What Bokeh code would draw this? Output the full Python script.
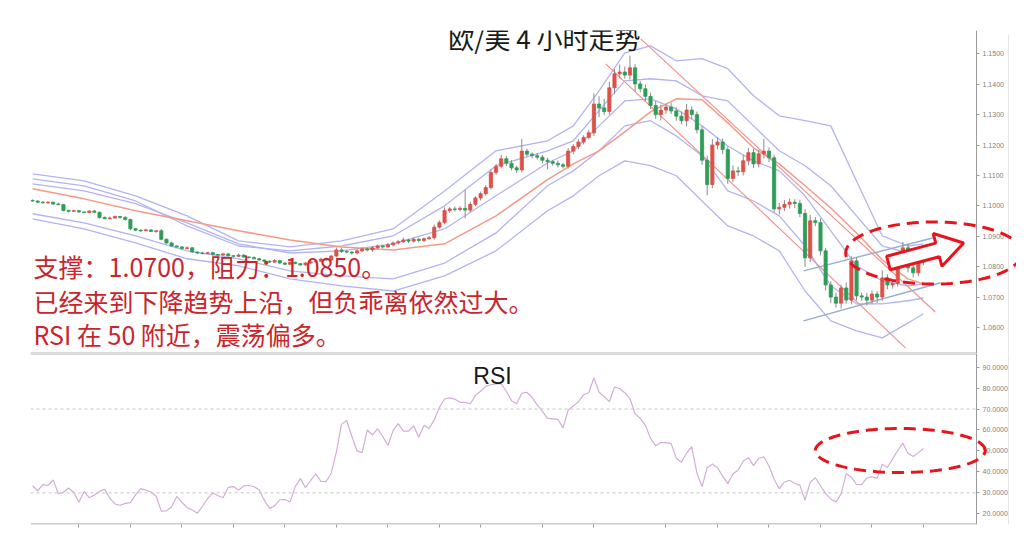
import numpy as np
from bokeh.plotting import figure
from bokeh.layouts import column
from bokeh.models import (Range1d, FixedTicker, NumeralTickFormatter,
                          PolyAnnotation, Label, ColumnDataSource)
from bokeh.core.properties import value
from bokeh.embed import file_html
from bokeh.resources import INLINE

# ---------------- data ----------------
first_open = 1.1018
closes = [
    1.1016, 1.1012, 1.1010, 1.1012, 1.1006, 1.1004, 1.0985, 1.0982, 1.0984, 1.0980,
    1.0978, 1.0983, 1.0979, 1.0962, 1.0958, 1.0960, 1.0965, 1.0962, 1.0955, 1.0925,
    1.0920, 1.0918, 1.0921, 1.0916, 1.0918, 1.0890, 1.0878, 1.0868, 1.0865, 1.0860,
    1.0862, 1.0848, 1.0845, 1.0843, 1.0846, 1.0840, 1.0838, 1.0842, 1.0836, 1.0834,
    1.0838, 1.0832, 1.0830, 1.0826, 1.0822, 1.0818, 1.0815, 1.0820, 1.0812, 1.0808,
    1.0814, 1.0810, 1.0806, 1.0812, 1.0816, 1.0818, 1.0825, 1.0822, 1.0835, 1.0855,
    1.0850, 1.0848, 1.0845, 1.0852, 1.0858, 1.0855, 1.0862, 1.0868, 1.0865, 1.0872,
    1.0878, 1.0882, 1.0888, 1.0884, 1.0890, 1.0886, 1.0892, 1.0895, 1.0930, 1.0945,
    1.0985, 1.0990, 1.0988, 1.0992, 1.0986, 1.1005, 1.1026, 1.1040, 1.1060, 1.1110,
    1.1130, 1.1155, 1.1140, 1.1125, 1.1118, 1.1180, 1.1170, 1.1165, 1.1160, 1.1150,
    1.1145, 1.1140, 1.1135, 1.1130, 1.1180, 1.1195, 1.1210, 1.1225, 1.1240, 1.1335,
    1.1322, 1.1310, 1.1388, 1.1434, 1.1440, 1.1430, 1.1454, 1.1401, 1.1385, 1.1360,
    1.1330, 1.1300, 1.1315, 1.1325, 1.1312, 1.1295, 1.1280, 1.1315, 1.1300, 1.1250,
    1.1150, 1.1070, 1.1200, 1.1210, 1.1185, 1.1090, 1.1115, 1.1112, 1.1148, 1.1175,
    1.1138, 1.1171, 1.1180, 1.1158, 1.0990, 1.0995, 1.1005, 1.1012, 1.1008, 1.0975,
    1.0829, 1.0951, 1.0945, 1.0852, 1.0740, 1.0700, 1.0680, 1.0730, 1.0690, 1.0819,
    1.0704, 1.0700, 1.0690, 1.0710, 1.0700, 1.0763, 1.0740, 1.0745, 1.0829, 1.0862,
    1.0796, 1.0780, 1.0819, 1.0815,
]
wick_up_pips = [
    3, 2, 4, 3, 2, 5, 3, 2, 4, 3,
    2, 3, 4, 2, 3, 5, 3, 2, 4, 3,
    2, 3, 4, 2, 3, 6, 3, 4, 2, 3,
    5, 3, 2, 4, 3, 3, 2, 4, 3, 2,
    5, 3, 2, 4, 3, 2, 3, 5, 3, 2,
    4, 3, 2, 3, 6, 3, 4, 5, 4, 8,
    6, 5, 4, 7, 5, 4, 6, 5, 4, 6,
    5, 6, 7, 4, 6, 5, 4, 6, 8, 7,
    10, 6, 8, 7, 60, 8, 6, 7, 9, 10,
    8, 12, 9, 10, 7, 40, 8, 6, 9, 7,
    8, 6, 9, 7, 10, 8, 9, 7, 10, 35,
    25, 30, 20, 15, 25, 18, 40, 12, 10, 14,
    12, 15, 18, 10, 14, 12, 15, 20, 12, 10,
    12, 15, 20, 15, 12, 10, 18, 14, 20, 15,
    12, 14, 40, 12, 10, 15, 14, 12, 10, 12,
    15, 20, 12, 14, 10, 12, 14, 10, 18, 15,
    12, 10, 14, 12, 10, 25, 12, 14, 10, 20,
    12, 14, 10, 8,
]
wick_dn_pips = [
    2, 3, 2, 4, 3, 2, 3, 4, 2, 3,
    3, 2, 3, 4, 2, 3, 2, 4, 3, 5,
    3, 4, 2, 3, 5, 3, 4, 2, 3, 4,
    3, 2, 4, 3, 2, 4, 3, 2, 3, 4,
    2, 3, 4, 2, 3, 5, 3, 2, 4, 3,
    3, 2, 4, 3, 2, 3, 4, 3, 5, 4,
    5, 4, 6, 5, 4, 5, 6, 4, 5, 4,
    6, 5, 4, 6, 5, 7, 5, 4, 6, 5,
    6, 8, 7, 6, 27, 7, 6, 8, 7, 6,
    8, 7, 9, 8, 10, 8, 7, 9, 8, 10,
    25, 8, 9, 7, 8, 10, 9, 8, 7, 10,
    30, 12, 10, 20, 15, 12, 14, 25, 12, 15,
    12, 14, 20, 12, 10, 15, 12, 18, 14, 12,
    15, 35, 12, 14, 15, 18, 12, 14, 12, 15,
    14, 12, 15, 14, 12, 18, 12, 14, 15, 12,
    30, 14, 12, 15, 18, 20, 15, 18, 12, 14,
    15, 12, 18, 14, 20, 12, 14, 12, 10, 12,
    14, 15, 12, 10,
]
rsi_values = [
    33.4, 31.0, 33.9, 33.5, 36.2, 29.6, 30.3, 32.3, 30.2, 25.5,
    30.7, 27.7, 28.9, 30.7, 31.7, 27.5, 24.7, 24.1, 25.0, 25.3,
    29.0, 32.0, 31.3, 30.4, 28.4, 21.3, 21.4, 23.4, 28.3, 25.5,
    23.0, 21.8, 20.3, 23.6, 27.3, 29.9, 28.6, 27.8, 32.6, 33.0,
    31.4, 33.3, 33.5, 32.9, 31.5, 26.5, 22.6, 23.8, 26.7, 26.8,
    25.6, 33.0, 36.8, 32.5, 35.9, 39.0, 35.5, 35.3, 39.5, 49.5,
    62.8, 64.5, 57.0, 50.0, 49.2, 60.0, 57.6, 60.6, 56.9, 52.6,
    59.7, 63.0, 59.5, 59.5, 62.0, 56.5, 62.2, 60.7, 64.8, 70.8,
    74.8, 75.3, 74.7, 73.2, 73.2, 72.5, 76.4, 78.5, 80.8, 81.6,
    82.0, 82.0, 78.5, 74.0, 72.5, 77.5, 78.0, 75.5, 72.0, 69.0,
    65.5, 65.3, 65.1, 61.0, 69.5, 71.5, 73.5, 76.8, 77.8, 84.8,
    78.0, 76.0, 73.5, 80.5, 79.8, 77.8, 75.0, 67.8, 65.5, 62.2,
    56.0, 52.5, 54.0, 54.0, 53.5, 46.5, 44.6, 49.0, 52.0, 39.5,
    33.0, 42.0, 43.8, 42.0, 38.0, 34.4, 39.1, 40.8, 45.2, 46.8,
    43.0, 46.5, 47.2, 42.8, 36.5, 32.0, 35.2, 36.0, 34.6, 33.7,
    26.5, 35.0, 37.2, 33.4, 29.6, 27.1, 25.6, 29.5, 39.2, 37.5,
    34.0, 33.9, 37.1, 37.7, 36.9, 43.7, 42.1, 46.2, 50.2, 53.7,
    48.8, 47.4, 49.2, 51.2,
]

# indicator lines, read at every tenth bar or so
band_idx = [0, 10, 20, 30, 40, 50, 60, 70, 80, 90, 100, 105, 110, 115, 120,
            125, 130, 135, 140, 145, 150, 155, 160, 165, 170, 173]
ma_line = [1.1056, 1.1023, 1.0984, 1.0951, 1.0918, 1.0888, 1.0865, 1.0855, 1.0875,
           1.0967, 1.1086, 1.1138, 1.1181, 1.1243, 1.1309, 1.1352, 1.1349, 1.1273,
           1.1191, 1.1138, 1.1066, 1.0993, 1.0911, 1.0822, 1.0760, 1.0743]
band_outer_up = [1.1105, 1.1082, 1.1033, 1.0967, 1.0885, 1.0865, 1.0885, 1.0924, 1.1049,
                 1.1181, 1.1214, 1.1263, 1.1378, 1.1503, 1.1526, 1.1477, 1.1484, 1.1451,
                 1.1362, 1.1296, 1.1280, 1.1263, 1.1082, 1.0901, 1.0868, 1.0875]
band_inner_up = [1.1089, 1.1066, 1.1016, 1.0934, 1.0868, 1.0852, 1.0868, 1.0901, 1.1000,
                 1.1132, 1.1181, 1.1214, 1.1313, 1.1411, 1.1418, 1.1411, 1.1362, 1.1345,
                 1.1263, 1.1181, 1.1132, 1.1066, 1.0967, 1.0868, 1.0845, 1.0852]
band_mid = [1.1072, 1.1049, 1.1007, 1.0944, 1.0875, 1.0845, 1.0852, 1.0875, 1.0924,
            1.1033, 1.1141, 1.1181, 1.1263, 1.1345, 1.1352, 1.1319, 1.1263, 1.1197,
            1.1148, 1.1115, 1.1033, 1.0918, 1.0803, 1.0753, 1.0737, 1.0743]
band_inner_dn = [1.0974, 1.0944, 1.0901, 1.0852, 1.0826, 1.0786, 1.0770, 1.0760, 1.0812,
                 1.0911, 1.1066, 1.1115, 1.1181, 1.1263, 1.1280, 1.1230, 1.1165, 1.1049,
                 1.1016, 1.0967, 1.0868, 1.0737, 1.0678, 1.0678, 1.0688, 1.0697]
band_outer_dn = [1.0957, 1.0924, 1.0878, 1.0826, 1.0803, 1.0760, 1.0737, 1.0720, 1.0770,
                 1.0852, 1.0984, 1.1033, 1.1099, 1.1148, 1.1132, 1.1099, 1.1016, 1.0934,
                 1.0901, 1.0852, 1.0720, 1.0622, 1.0589, 1.0566, 1.0615, 1.0645]

# trend lines (bar index, price)
down_upper_x = [118.1, 175.3]
down_upper_y = [1.1549, 1.0651]
down_lower_x = [111.3, 169.5]
down_lower_y = [1.1467, 1.0533]
up_upper_x = [149.7, 176.3]
up_upper_y = [1.0786, 1.0901]
up_lower_x = [149.7, 176.3]
up_lower_y = [1.0622, 1.0747]

price_ticks = [1.06, 1.07, 1.08, 1.09, 1.10, 1.11, 1.12, 1.13, 1.14, 1.15]
rsi_ticks = [20, 30, 40, 50, 60, 70, 80, 90]
rsi_levels = [30, 70]
day_ticks = [9, 19, 29, 39, 49, 59, 69, 79, 87, 99, 109, 123, 133, 143, 153, 163, 173]

title_text = "欧/美 4 小时走势"
note_lines = ["支撑：1.0700，阻力：1.0850。",
              "已经来到下降趋势上沿，但负乖离依然过大。",
              "RSI 在 50 附近，震荡偏多。"]
rsi_title = "RSI"

# ---------------- derived OHLC ----------------
c = np.array(closes)
o = np.concatenate([[first_open], c[:-1]])
hi = np.maximum(o, c) + np.array(wick_up_pips) * 0.0001
lo = np.minimum(o, c) - np.array(wick_dn_pips) * 0.0001
idx = np.arange(len(c))
up = c >= o

UP_COL = "#dd5148"
DN_COL = "#2e9d58"
WICK = "#8c8c8c"
LAV = "#b3b3f2"
SALMON = "#f49a86"
CHAN = "#f28c8c"
STEEL = "#97aecb"
ANN_RED = "#e8141c"
TXT_RED = "#c8262b"
AX_COL = "#9a9a9a"

W = 1016
BL = 30
X0, X1 = -0.4, 191.06      # frame spans the whole width
AXIS_X = 183.3             # where the price / RSI axes sit
EDGE_X = 189.5             # faint right border line
x_range = Range1d(X0, X1)
P_LO, P_HI = 1.05145, 1.15766
R_LO, R_HI = 14.9, 96.5


def style_yaxis(a, ticks):
    a.ticker = FixedTicker(ticks=ticks)
    a.formatter = NumeralTickFormatter(format="0.0000")
    a.fixed_location = AXIS_X
    a.major_label_text_font = "Liberation Sans"
    a.major_label_text_font_size = "7px"
    a.major_label_text_color = "#808080"
    a.axis_line_color = AX_COL
    a.major_tick_line_color = AX_COL
    a.major_tick_out = 3
    a.major_tick_in = 0
    a.minor_tick_line_color = None
    a.major_label_standoff = 3


# ---------------- top figure ----------------
p1 = figure(width=W, height=353, x_range=x_range, y_range=Range1d(P_LO, P_HI),
            output_backend="svg", toolbar_location=None, tools="",
            x_axis_location=None, y_axis_location="right",
            min_border_left=BL, min_border_right=0, min_border_top=30, min_border_bottom=0)
p1.outline_line_color = None
p1.grid.visible = False
style_yaxis(p1.yaxis[0], price_ticks)

p1.line([EDGE_X, EDGE_X], [P_LO, 1.1563], line_color="#e4e4e4", line_width=1)

for ys in (band_outer_up, band_inner_up, band_mid, band_inner_dn, band_outer_dn):
    p1.line(band_idx, ys, line_color=LAV, line_width=1.3)
p1.line(band_idx, ma_line, line_color=SALMON, line_width=1.5)

p1.line(down_upper_x, down_upper_y, line_color=CHAN, line_width=1.1)
p1.line(down_lower_x, down_lower_y, line_color=CHAN, line_width=1.1)
p1.line(up_upper_x, up_upper_y, line_color=STEEL, line_width=1.4)
p1.line(up_lower_x, up_lower_y, line_color=STEEL, line_width=1.4)

src = ColumnDataSource(dict(x=idx, o=o, c=c, hi=hi, lo=lo,
                            top=np.maximum(o, c), bot=np.minimum(o, c),
                            col=np.where(up, UP_COL, DN_COL)))
p1.segment(x0="x", y0="lo", x1="x", y1="hi", source=src, line_color=WICK, line_width=1)
p1.vbar(x="x", top="top", bottom="bot", width=0.62, source=src,
        fill_color="col", line_color="col", line_width=0.8)

# divider between the panels
p1.line([X0, AXIS_X], [P_LO + 0.00012, P_LO + 0.00012], line_color=AX_COL, line_width=1)

# notes
note_y = [1.08026, 1.06875, 1.05789]
p1.text(x=[0.2] * 3, y=note_y, text=note_lines, text_font=value("Noto Sans CJK SC"),
        text_font_size=value("25px"), text_color=TXT_RED, text_baseline="middle")
p1.add_layout(Label(x=99.4, y=1.15526, text=title_text, text_font="Noto Sans CJK SC",
                    text_font_size="26px", text_color="#1a1a1a", text_align="center",
                    text_baseline="middle"))

# screen-space helpers for the annotation shapes
SX = 986 / (X1 - X0)
SY1 = 323 / (P_HI - P_LO)


def ellipse_pts(cx, cy, rx, ry, n=120):
    t = np.linspace(0, 2 * np.pi, n)
    return list(cx + rx * np.cos(t)), list(cy + ry * np.sin(t))


ex, ey = ellipse_pts(175.0, 1.0845, 17.1, 0.0102)
p1.add_layout(PolyAnnotation(xs=ex, ys=ey, xs_units="data", ys_units="data",
                             fill_alpha=0, line_color=ANN_RED, line_alpha=1.0,
                             line_width=3, line_dash="12 7"))

# hollow block arrow
tail = (166.2, 1.0812)
tip = (180.8, 1.0878)
tx, ty = tail[0] * SX, -tail[1] * SY1
hx, hy = tip[0] * SX, -tip[1] * SY1
L = np.hypot(hx - tx, hy - ty)
ux, uy = (hx - tx) / L, (hy - ty) / L
nx, ny = -uy, ux
sw, hw, hl = 7, 17, 27
bx, by = hx - ux * hl, hy - uy * hl
pts = [(tx + nx * sw, ty + ny * sw), (bx + nx * sw, by + ny * sw), (bx + nx * hw, by + ny * hw),
       (hx, hy), (bx - nx * hw, by - ny * hw), (bx - nx * sw, by - ny * sw),
       (tx - nx * sw, ty - ny * sw)]
p1.patch([q[0] / SX for q in pts], [-q[1] / SY1 for q in pts], fill_color="white",
         line_color=ANN_RED, line_width=3)

# ---------------- RSI figure ----------------
p2 = figure(width=W, height=177, x_range=x_range, y_range=Range1d(R_LO, R_HI),
            output_backend="svg", toolbar_location=None, tools="",
            y_axis_location="right",
            min_border_left=BL, min_border_right=0, min_border_top=0, min_border_bottom=6)
p2.outline_line_color = None
p2.grid.visible = False
style_yaxis(p2.yaxis[0], rsi_ticks)
axx = p2.xaxis[0]
axx.ticker = FixedTicker(ticks=day_ticks)
axx.major_label_overrides = {t: "" for t in day_ticks}
axx.major_label_text_font_size = "1px"
axx.major_label_standoff = 0
axx.axis_line_color = None
axx.major_tick_line_color = AX_COL
axx.major_tick_out = 3
axx.major_tick_in = 0
axx.minor_tick_line_color = None

p2.line([EDGE_X, EDGE_X], [R_LO, R_HI], line_color="#e4e4e4", line_width=1)
p2.line([X0, AXIS_X], [R_HI - 0.2, R_HI - 0.2], line_color=AX_COL, line_width=1)
p2.line([X0, AXIS_X], [R_LO + 0.25, R_LO + 0.25], line_color=AX_COL, line_width=1)
for lv in rsi_levels:
    p2.line([X0, AXIS_X], [lv, lv], line_color="#c4c4c4", line_width=1, line_dash="3 3")
p2.line(idx, rsi_values, line_color="#d2aed6", line_width=1.2)
p2.add_layout(Label(x=89.3, y=85.7, text=rsi_title, text_font="Liberation Sans",
                    text_font_size="23px", text_color="#1a1a1a", text_align="center",
                    text_baseline="middle"))
rx, ry = ellipse_pts(168.5, 50.2, 16.5, 10.5)
p2.add_layout(PolyAnnotation(xs=rx, ys=ry, xs_units="data", ys_units="data",
                             fill_alpha=0, line_color=ANN_RED, line_alpha=1.0,
                             line_width=3, line_dash="12 7"))

layout = column(p1, p2, spacing=0)
open("out.html", "w").write(file_html(layout, INLINE))
